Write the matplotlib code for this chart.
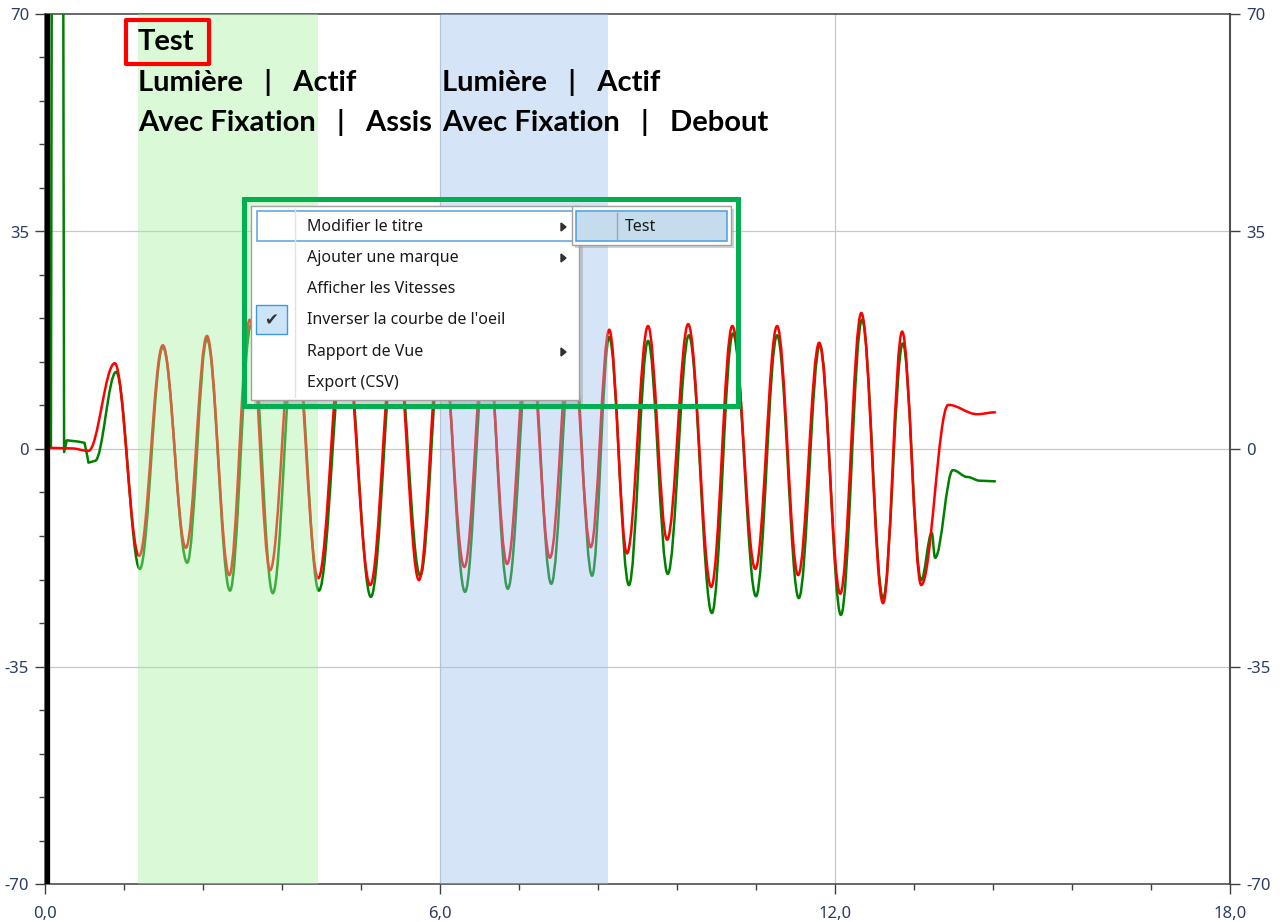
import numpy as np
import matplotlib.pyplot as plt
from matplotlib.path import Path
from matplotlib.patches import PathPatch, Rectangle, Polygon

plt.rcParams['font.family'] = ['Noto Sans', 'DejaVu Sans']

# --- traces (deg) ---------------------------------------------------------
# start of the green trace (blink spike at t=0), drawn as straight segments
green_lead_x = [0.09, 0.11, 0.27, 0.29, 0.33, 0.50, 0.60, 0.64, 0.66, 0.76]
green_lead_y = [0.3, 120.0, 120.0, -0.5, 1.4, 1.2, 1.0, -1.0, -2.2, -1.9]

# turning points of each trace (time s, position deg)
red_x = [0.00, 0.40, 0.66, 1.06, 1.43, 1.79, 2.14, 2.46, 2.80, 3.11, 3.42,
         3.78, 4.15, 4.54, 4.94, 5.32, 5.68, 6.02, 6.37, 6.70, 7.02, 7.35,
         7.67, 7.99, 8.29, 8.57, 8.84, 9.16, 9.45, 9.77, 10.12, 10.44, 10.79,
         11.12, 11.44, 11.76, 12.08, 12.40, 12.73, 13.02, 13.31, 13.72,
         14.16, 14.43]
red_y = [0.2, 0.1, -0.3, 13.8, -17.2, 16.7, -15.9, 18.2, -20.3, 20.8, -19.5,
         20.5, -20.8, 20.5, -21.9, 20.5, -21.1, 20.0, -19.0, 20.0, -18.5, 20.0,
         -17.5, 19.5, -15.8, 19.2, -16.8, 19.8, -14.6, 20.1, -22.2, 19.8, -19.3,
         19.8, -20.3, 17.1, -23.3, 21.9, -24.8, 18.9, -21.9, 7.1,
         5.6, 5.9]

green_x = [0.76, 1.08, 1.44, 1.79, 2.16, 2.46, 2.81, 3.13, 3.46, 3.80, 4.16,
           4.56, 4.95, 5.33, 5.70, 6.03, 6.38, 6.71, 7.03, 7.37, 7.69, 8.01,
           8.31, 8.57, 8.87, 9.16, 9.46, 9.78, 10.13, 10.45, 10.80, 11.12,
           11.45, 11.77, 12.09, 12.41, 12.73, 13.03, 13.31, 13.47, 13.52,
           13.79, 14.01, 14.20, 14.43]
green_y = [-1.9, 12.4, -19.3, 16.4, -18.3, 17.7, -22.8, 20.0, -23.2, 19.5, -22.8,
           19.5, -23.8, 19.5, -20.4, 19.0, -23.0, 19.0, -22.5, 19.0, -21.7, 18.5,
           -20.4, 18.0, -21.9, 17.4, -20.1, 18.3, -26.4, 18.6, -23.7, 18.3,
           -24.0, 16.7, -26.7, 20.8, -24.0, 17.0, -21.1, -13.5, -17.5,
           -3.4, -4.5, -5.1, -5.2]

# test phases (s)
phase_green = (1.41, 4.15)
phase_blue = (6.00, 8.55)

title = "Test"
phase1 = ["Lumière   |   Actif", "Avec Fixation   |   Assis"]
phase2 = ["Lumière   |   Actif", "Avec Fixation   |   Debout"]

menu_items = ["Modifier le titre", "Ajouter une marque", "Afficher les Vitesses",
              "Inverser la courbe de l'oeil", "Rapport de Vue", "Export (CSV)"]
menu_arrows = [0, 1, 4]
menu_checked = 3
submenu_item = "Test"

x_major = [0, 6, 12, 18]
y_major = [-70, -35, 0, 35, 70]

label_col = '#2b3d63'
axis_col = '#404040'


def trace_path(xs, ys, lead_x=None, lead_y=None, k=0.364):
    # smooth curve through the turning points: horizontal tangent at each one
    verts, codes = [], []
    if lead_x is not None:
        verts.append((lead_x[0], lead_y[0]))
        codes.append(Path.MOVETO)
        for x, y in zip(lead_x[1:], lead_y[1:]):
            verts.append((x, y))
            codes.append(Path.LINETO)
    else:
        verts.append((xs[0], ys[0]))
        codes.append(Path.MOVETO)
    for i in range(len(xs) - 1):
        dx = xs[i + 1] - xs[i]
        verts += [(xs[i] + k * dx, ys[i]), (xs[i + 1] - k * dx, ys[i + 1]),
                  (xs[i + 1], ys[i + 1])]
        codes += [Path.CURVE4] * 3
    return Path(verts, codes)


fig = plt.figure(figsize=(12.8, 9.22), dpi=100)
ax = fig.add_axes([45 / 1280, 38 / 922, 1185 / 1280, 870 / 922])
ax.set_xlim(0, 18)
ax.set_ylim(-70, 70)

ax.set_xticks(x_major)
ax.set_xticklabels([('%.1f' % v).replace('.', ',') for v in x_major])
ax.set_xticks(np.arange(0, 18.01, 1.2), minor=True)
ax.set_yticks(y_major)
ax.set_yticklabels([str(v) for v in y_major])
ax.set_yticks(np.arange(-70, 70.1, 7), minor=True)

ax.tick_params(axis='both', which='both', direction='out', color=axis_col,
               width=1.0, labelcolor=label_col, labelsize=12)
ax.tick_params(axis='both', which='major', length=7.5)
ax.tick_params(axis='both', which='minor', length=4)
ax.tick_params(axis='y', right=True, labelright=True, pad=4)
ax.tick_params(axis='x', pad=8)

for s in ['top', 'bottom', 'left']:
    ax.spines[s].set_color(axis_col)
    ax.spines[s].set_linewidth(1.1)
ax.spines['right'].set_color('#505050')
ax.spines['right'].set_linewidth(1.5)

for v in [6, 12]:
    ax.axvline(v, color='#c8c8c8', lw=0.9, zorder=1)
for v in [-35, 0, 35]:
    ax.axhline(v, color='#c8c8c8', lw=0.9, zorder=1)

ax.axvline(0.03, color='black', lw=4.5, zorder=6)

ax.add_patch(PathPatch(trace_path(green_x, green_y, green_lead_x, green_lead_y),
                       fill=False, edgecolor='#008000', lw=1.8,
                       capstyle='round', joinstyle='round', zorder=3))
ax.add_patch(PathPatch(trace_path(red_x, red_y), fill=False, edgecolor='#ff0000',
                       lw=1.8, capstyle='round', joinstyle='round', zorder=4))

ax.axvspan(*phase_green, color=(162 / 255, 240 / 255, 157 / 255), alpha=0.4,
           lw=0, zorder=5)
ax.axvspan(*phase_blue, color=(152 / 255, 192 / 255, 237 / 255), alpha=0.4,
           lw=0, zorder=5)

# overlay in pixel coordinates for headers and the context menu
ov = fig.add_axes([0, 0, 1, 1], zorder=10)
ov.set_xlim(0, 1280)
ov.set_ylim(922, 0)
ov.axis('off')
ov.patch.set_alpha(0)

hfont = dict(fontsize=21, fontweight='bold', color='black', va='center',
             ha='left', family=['Lato', 'DejaVu Sans'])
ov.text(138, 42, title, **hfont)
for i, line in enumerate(phase1):
    ov.text(138, 83 + 40 * i, line, **hfont)
for i, line in enumerate(phase2):
    ov.text(442, 83 + 40 * i, line, **hfont)
ov.add_patch(Rectangle((126, 20), 83, 44, fill=False, edgecolor='#ff0000',
                       lw=3, joinstyle='round'))

# context menu
ov.add_patch(Rectangle((254, 209), 329, 195, facecolor='#9a9a9a', alpha=0.45,
                       lw=0))
ov.add_patch(Rectangle((251, 206), 328, 194, facecolor='white',
                       edgecolor='#a0a0a0', lw=1))
ov.plot([295, 295], [209, 397], color='#e2e2e2', lw=1)
ov.add_patch(Rectangle((257, 211), 316, 30, facecolor='white',
                       edgecolor='#5aa0e0', lw=1.1))
rows = [227, 258, 289, 320, 352, 383]
for i, item in enumerate(menu_items):
    ov.text(307, rows[i], item, fontsize=11.5, color='#1a1a1a', va='center',
            ha='left')
    if i in menu_arrows:
        ov.add_patch(Polygon([(561, rows[i] - 4), (561, rows[i] + 4),
                              (566, rows[i])], closed=True, color='#303030'))
ov.add_patch(Rectangle((256, 305), 31, 29, facecolor='#cce4f7',
                       edgecolor='#3d9ae0', lw=1))
ov.text(271.5, rows[menu_checked], '✔', fontsize=12, color='#333333',
        ha='center', va='center', family=['DejaVu Sans'])

# submenu
ov.add_patch(Rectangle((575, 209), 159, 39, facecolor='#9a9a9a', alpha=0.45,
                       lw=0))
ov.add_patch(Rectangle((572, 206), 159, 39, facecolor='white',
                       edgecolor='#a0a0a0', lw=1))
ov.add_patch(Rectangle((576, 211), 151, 30, facecolor='#c5dcec',
                       edgecolor='#4a9de0', lw=1.1))
ov.plot([617, 617], [213, 239], color='#8aa8c0', lw=1)
ov.text(625, 227, submenu_item, fontsize=11.5, color='#1a1a1a', va='center',
        ha='left')

ov.add_patch(Rectangle((243.5, 199), 494, 207, fill=False, edgecolor='#00b050',
                       lw=3.6))

fig.savefig('out.png', dpi=100)
